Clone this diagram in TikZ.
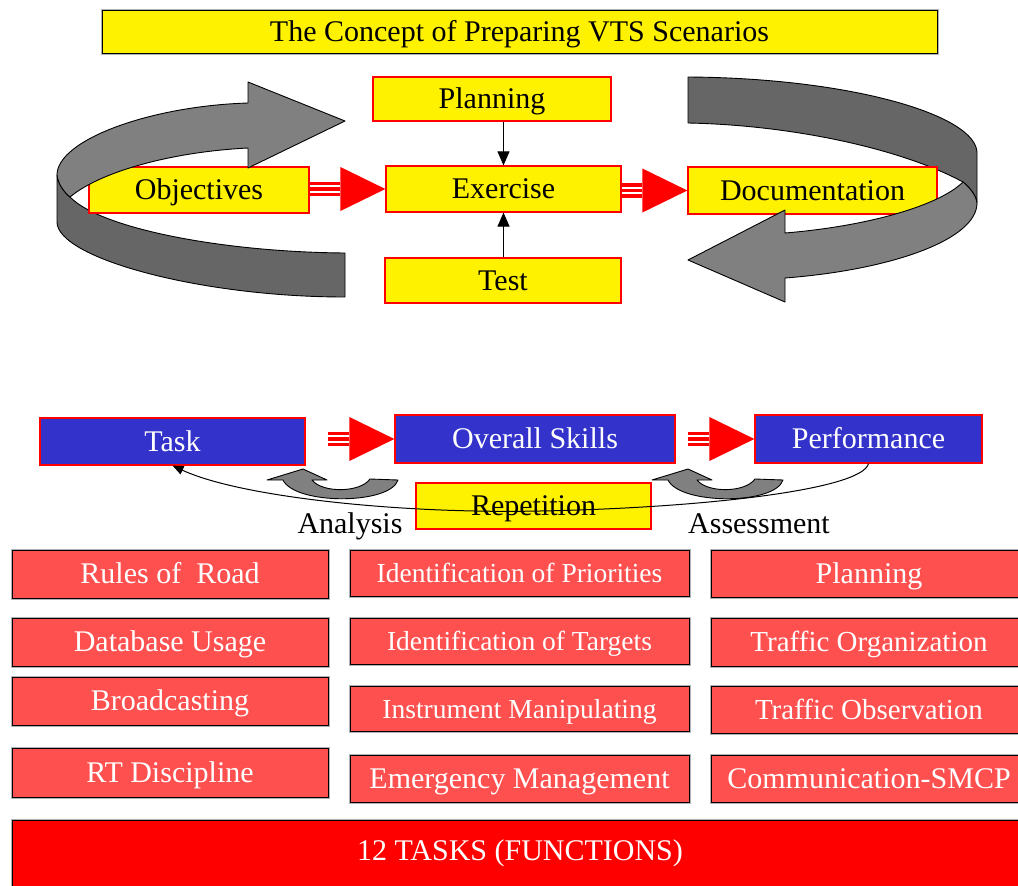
\documentclass[tikz,border=0pt]{standalone}
\usepackage{fontspec}
\setmainfont{Liberation Serif}
\usetikzlibrary{arrows.meta,calc}
\definecolor{bluebox}{RGB}{51,51,204}
\definecolor{redbox}{RGB}{255,80,80}
\definecolor{lgray}{RGB}{128,128,128}
\definecolor{dgray}{RGB}{102,102,102}
\newcommand\fs[1]{\fontsize{#1}{#1}\selectfont}
% \bx{style}{name}{x1}{y1}{x2}{y2}{text}
\newcommand\bx[7]{\node[#1, minimum width={#5-#3}, minimum height={#6-#4}] (#2) at ({(#3+#5)/2},{(#4+#6)/2}) {#7};}
\newcommand\dblarrow[2]{%
  \path (#1 |- #2) coordinate (tmpS);
  \fill[red] (#2) -- ($(#2)+(-45,-22)$) -- ($(#2)+(-45,22)$) -- cycle;
  \foreach \d in {-5.5,0,5.5}{\draw[red,line width=3.4pt] ($(tmpS)+(0,\d)$) -- ($(#2)+(-45.5,\d)$);}
}
\begin{document}
\begin{tikzpicture}[x=1pt,y=-1pt,
  tb/.style={text height=20pt, text depth=1pt},
  yel/.style={tb, draw=red, line width=1.2pt, fill=yellow, inner sep=0pt, font=\fs{30}},
  ttl/.style={tb, draw=black, line width=1pt, fill=yellow, inner sep=0pt, font=\fs{30}, preaction={draw=gray!60,line width=3pt}},
  blu/.style={tb, draw=red, line width=1.2pt, fill=bluebox, text=white, inner sep=0pt, font=\fs{30}},
  rbx/.style={tb, draw=black, line width=1pt, fill=redbox, text=white, inner sep=0pt, font=\fs{30}, preaction={draw=gray!60,line width=3pt}},
  big/.style={draw=black, line width=1pt, fill=red, preaction={draw=gray!60,line width=3pt}},
  lbl/.style={inner sep=0pt, font=\fs{30}, anchor=base},
  rib1/.style={fill=lgray, draw=black, line width=0.9pt, line join=round},
  rib2/.style={fill=dgray, draw=black, line width=0.9pt, line join=round},
  blk/.style={draw=black, line width=1pt, -{Triangle[length=14pt,width=12pt]}},
]
\useasboundingbox (0,0) rectangle (1018,886);

% title
\bx{ttl}{title}{102}{10}{937}{53}{The Concept of Preparing VTS Scenarios}

% back (dark) parts of ribbons
\draw[rib2] (57,175) -- (57,222) .. controls (57,258) and (200,297) .. (345,297)
  -- (345,253) .. controls (220,252) and (100,228) .. (70,197)
  .. controls (64,192) and (58,184) .. (57,175) -- cycle;
\draw[rib2] (688,77) .. controls (850,78) and (977,115) .. (977,153) -- (977,203)
  .. controls (976,195) and (970,188) .. (963,182)
  .. controls (900,148) and (790,125) .. (688,123) -- cycle;

% top boxes
\bx{yel}{plan}{373}{77}{611}{121}{Planning}
\bx{yel}{obj}{89}{167}{309}{213}{Objectives}
\bx{yel}{ex}{386}{166}{621}{212}{Exercise}
\bx{yel}{doc}{688}{167}{937}{214}{Documentation}
\bx{yel}{test}{385}{258}{621}{303}{Test}

% front (light) parts of ribbons
\draw[rib1] (345,121) -- (248,82) -- (248,103) .. controls (150,106) and (57,140) .. (57,175)
  .. controls (58,184) and (64,192) .. (70,197)
  .. controls (100,172) and (170,152) .. (248,148) -- (248,168) -- cycle;
\draw[rib1] (977,203) .. controls (977,240) and (890,270) .. (785,278) -- (785,302) -- (688,260)
  -- (785,210) -- (785,233) .. controls (870,226) and (940,205) .. (963,182)
  .. controls (970,188) and (976,195) .. (977,203) -- cycle;

% top connectors
\draw[blk] (plan.south -| ex.north) -- (ex.north);
\draw[blk] (test.north -| ex.south) -- (ex.south);
\dblarrow{obj.east}{ex.west}
\dblarrow{ex.east}{doc.west}

% bottom flow
\bx{blu}{task}{40}{418}{305}{465}{Task}
\bx{blu}{ov}{395}{415}{675}{463}{Overall Skills}
\bx{blu}{perf}{755}{415}{982}{463}{Performance}
\coordinate (ts) at (328,439);
\coordinate (os) at (688,439);
\dblarrow{ts}{ov.west}
\dblarrow{os}{perf.west}

\bx{yel}{rep}{416}{483}{651}{529}{Repetition}

% U-shaped arrows
\foreach \s in {0,385}{
\draw[rib1, shift={(\s,0)}] (267,480) -- (303,469) -- (327,480) -- (312,480)
  .. controls (322,493) and (360,493) .. (370,479) -- (398,480)
  .. controls (390,505) and (295,505) .. (283,480) -- cycle;
}

\draw[line width=1pt, -{Triangle[length=11pt,width=9pt]}] (perf.south)
  .. controls (862,490) and (700,508) .. (540,511)
  .. controls (400,514) and (240,497) .. (task.south);

\node[lbl] (ana) at (350,533) {Analysis};
\node[lbl] (ass) at (759,533) {Assessment};

% task boxes
\bx{rbx}{r1}{12}{550}{328}{598}{Rules of\ \ Road}
\bx{rbx}{r2}{12}{618}{328}{666}{Database Usage}
\bx{rbx}{r3}{12}{677}{328}{725}{Broadcasting}
\bx{rbx}{r4}{12}{748}{328}{797}{RT Discipline}

\bx{rbx,font=\fs{27.5}}{m1}{350}{550}{689}{596}{Identification of Priorities}
\bx{rbx,font=\fs{27.5}}{m2}{350}{618}{689}{664}{Identification of Targets}
\bx{rbx,font=\fs{27.5}}{m3}{350}{686}{689}{731}{Instrument Manipulating}
\bx{rbx}{m4}{350}{755}{689}{802}{Emergency Management}

\bx{rbx}{q1}{711}{550}{1027}{597}{Planning}
\bx{rbx,font=\fs{29}}{q2}{711}{618}{1027}{666}{Traffic Organization}
\bx{rbx,font=\fs{29}}{q3}{711}{686}{1027}{733}{Traffic Observation}
\bx{rbx}{q4}{711}{755}{1027}{802}{Communication-SMCP}

\draw[big] (12,820) rectangle (1030,900);
\node[lbl, text=white] (tasks) at (520,860) {12 TASKS (FUNCTIONS)};
\end{tikzpicture}
\end{document}
